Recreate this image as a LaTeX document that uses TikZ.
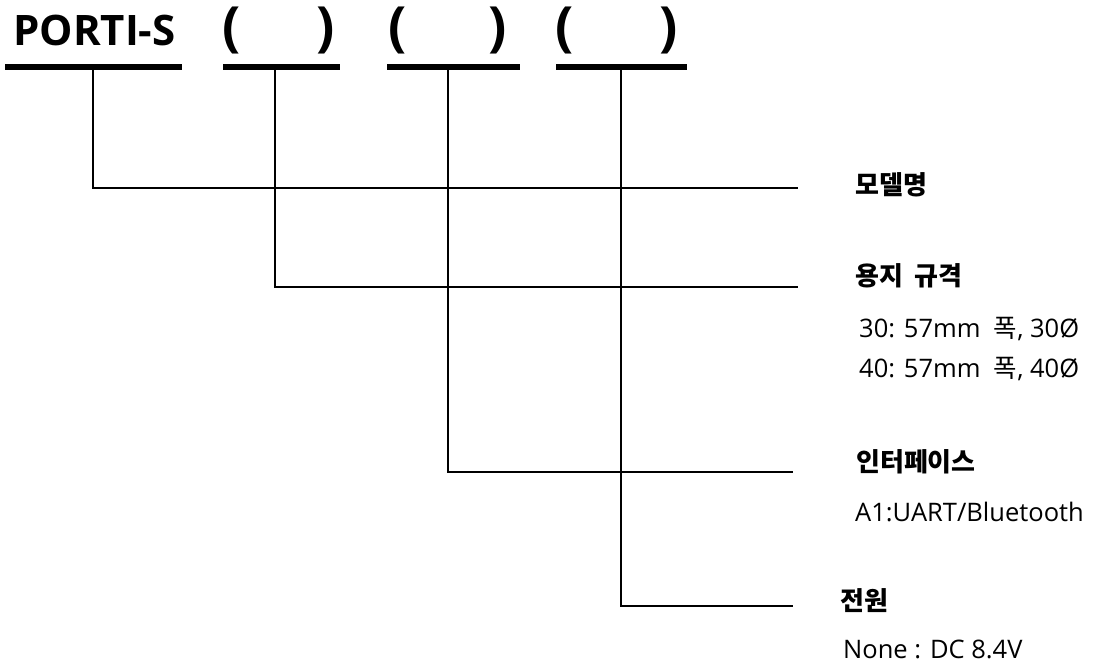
\documentclass[tikz,border=0pt]{standalone}
\usepackage{fontspec}
\setmainfont{Open Sans}
\newfontfamily\kr{Noto Sans CJK KR}
\tikzset{
  lead/.style={line width=1.6pt},
  bar/.style={line width=5.5pt},
  title/.style={inner sep=0pt, anchor=base west, font=\fontsize{42}{44}\selectfont\bfseries},
  paren/.style={inner sep=0pt, anchor=base west, font=\fontsize{54}{56}\selectfont\bfseries},
  item/.style={inner sep=0pt, anchor=base west, font=\kr\fontsize{26}{28}\selectfont\bfseries},
  spec/.style={inner sep=0pt, anchor=base west, font=\fontsize{25.5}{27}\selectfont},
}
\begin{document}
\begin{tikzpicture}[x=1pt, y=-1pt]
    \useasboundingbox (0,0) rectangle (1094,663);
    % model code
    \node[title] (model) at (13,46) {PORTI-S};
    \node[paren] (open1) at (222,46) {(};
    \node[paren] (close1) at (316,46) {)};
    \node[paren] (open2) at (388,46) {(};
    \node[paren] (close2) at (488,46) {)};
    \node[paren] (open3) at (555,46) {(};
    \node[paren] (close3) at (659,46) {)};
    \draw[bar] (5,67) -- (182,67);
    \draw[bar] (223,67) -- (340,67);
    \draw[bar] (387,67) -- (520,67);
    \draw[bar] (556,67) -- (687,67);
    % leads
    \coordinate (S1) at (93,69);
    \coordinate (S2) at (275,69);
    \coordinate (S3) at (448,69);
    \coordinate (S4) at (621,69);
    \coordinate (E1) at (798,188);
    \coordinate (E2) at (798,287);
    \coordinate (E3) at (793,472);
    \coordinate (E4) at (793,606);
    \draw[lead] (S1) |- (E1);
    \draw[lead] (S2) |- (E2);
    \draw[lead] (S3) |- (E3);
    \draw[lead] (S4) |- (E4);
    % labels
    \node[item] (name) at (855,194) {모델명};
    \node[item] (paper) at (855,285) {용지\ \ 규격};
    \node[spec] (paper30) at (859,337) {30: 57mm\ \ {\kr 폭}, 30Ø};
    \node[spec] (paper40) at (859,377) {40: 57mm\ \ {\kr 폭}, 40Ø};
    \node[item] (iface) at (856,471) {인터페이스};
    \node[spec] (ifaceA1) at (855,521) {A1:UART/Bluetooth};
    \node[item] (power) at (840,610) {전원};
    \node[spec] (powerdc) at (843,658) {None : DC 8.4V};
\end{tikzpicture}
\end{document}
